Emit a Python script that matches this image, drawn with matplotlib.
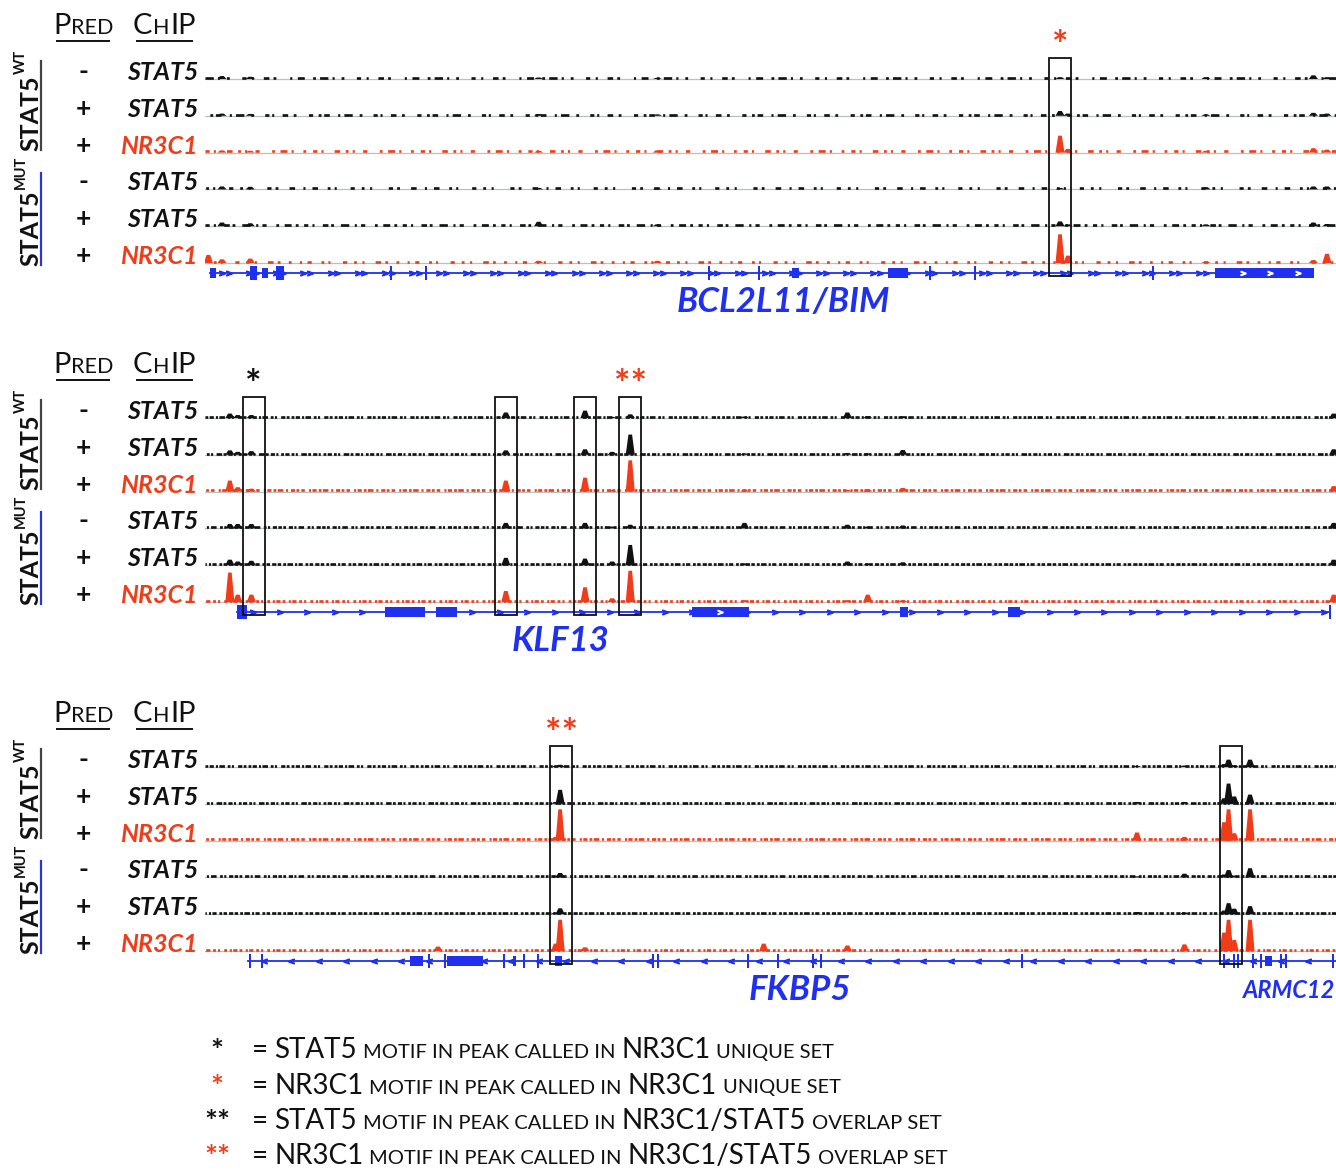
import matplotlib
matplotlib.use("Agg")
import matplotlib.pyplot as plt
import numpy as np
from matplotlib.patches import Rectangle, Polygon

plt.rcParams["font.family"] = ["Lato", "DejaVu Sans"]
plt.rcParams["lines.scale_dashes"] = False

BLACK = "#111111"
RED = "#f03c18"
GENE_BLUE = "#2030f0"
LINE_BLUE = "#2a36d8"
BASE_GRAY = "#b7c3c3"

# ---- track annotations (same for every locus) ----
PRED = ["-", "+", "+", "-", "+", "+"]
CHIP = ["STAT5", "STAT5", "NR3C1", "STAT5", "STAT5", "NR3C1"]

# ---- BCL2L11/BIM locus (x = % of window) ----
BIM_PEAK_X = [0.3, 1.5, 4.0, 29.5, 40.0, 75.6, 76.3, 88.5, 98.0, 99.2]
BIM_PEAK_H = [
    [0.00, 0.08, 0.06, 0.04, 0.03, 0.05, 0.00, 0.05, 0.10, 0.05],
    [0.00, 0.06, 0.05, 0.05, 0.04, 0.13, 0.06, 0.04, 0.08, 0.06],
    [0.00, 0.06, 0.05, 0.05, 0.06, 0.46, 0.10, 0.05, 0.12, 0.08],
    [0.00, 0.08, 0.07, 0.04, 0.03, 0.04, 0.00, 0.06, 0.08, 0.08],
    [0.00, 0.10, 0.08, 0.12, 0.05, 0.13, 0.05, 0.05, 0.10, 0.06],
    [0.22, 0.10, 0.12, 0.06, 0.06, 0.78, 0.20, 0.04, 0.08, 0.25],
]
BIM_BOXES = [75.6]
BIM_STARS = [(75.6, "*", RED)]
BIM_SPAN = (0.44, 97.97)
BIM_EXONS = [(0.44, 0.97, "c"), (3.98, 4.60, "T"), (5.04, 5.57, "c"), (6.28, 6.98, "T"),
             (16.36, 16.56, "T"), (19.45, 19.65, "T"), (44.47, 44.67, "T"), (48.89, 49.09, "T"),
             (51.90, 52.52, "c"), (60.39, 62.16, "c"), (64.01, 64.21, "T"), (67.99, 68.19, "T"),
             (83.73, 83.93, "T"), (89.30, 98.06, "c")]
BIM_LABELS = [("BCL2L11/BIM", 51.1, 25)]

# ---- KLF13 locus ----
KLF13_PEAK_X = [2.2, 2.9, 4.1, 26.6, 33.6, 36.0, 37.6, 47.7, 56.8, 58.6, 61.7, 99.8]
KLF13_PEAK_H = [
    [0.12, 0.08, 0.08, 0.15, 0.20, 0.03, 0.10, 0.04, 0.15, 0.05, 0.05, 0.12],
    [0.12, 0.08, 0.10, 0.12, 0.15, 0.08, 0.55, 0.04, 0.05, 0.04, 0.13, 0.15],
    [0.30, 0.12, 0.08, 0.30, 0.38, 0.05, 0.85, 0.05, 0.05, 0.06, 0.10, 0.15],
    [0.12, 0.12, 0.12, 0.15, 0.15, 0.05, 0.10, 0.15, 0.10, 0.05, 0.08, 0.15],
    [0.15, 0.10, 0.12, 0.20, 0.18, 0.10, 0.55, 0.05, 0.10, 0.05, 0.08, 0.15],
    [0.80, 0.20, 0.20, 0.30, 0.40, 0.10, 0.85, 0.05, 0.05, 0.20, 0.05, 0.20],
]
KLF13_BOXES = [4.3, 26.6, 33.6, 37.6]
KLF13_STARS = [(4.3, "*", BLACK), (37.6, "**", RED)]
KLF13_SPAN = (2.83, 99.47)
KLF13_EXONS = [(2.83, 3.72, "T"), (15.92, 19.45, "c"), (20.42, 22.28, "c"), (43.06, 48.10, "c"),
               (61.45, 62.20, "c"), (71.00, 72.06, "c"), (99.37, 99.57, "T")]
KLF13_LABELS = [("KLF13", 31.4, 25)]

# ---- FKBP5 locus ----
FKBP5_PEAK_X = [20.6, 31.0, 31.4, 33.6, 49.4, 56.8, 82.4, 86.6, 90.1, 90.5, 91.0, 92.4]
FKBP5_PEAK_H = [
    [0.00, 0.03, 0.06, 0.00, 0.00, 0.00, 0.03, 0.04, 0.08, 0.20, 0.05, 0.20],
    [0.00, 0.05, 0.38, 0.00, 0.00, 0.00, 0.05, 0.05, 0.15, 0.55, 0.20, 0.25],
    [0.00, 0.10, 0.85, 0.00, 0.00, 0.00, 0.22, 0.10, 0.50, 0.85, 0.20, 0.85],
    [0.00, 0.05, 0.12, 0.00, 0.00, 0.00, 0.03, 0.10, 0.08, 0.20, 0.05, 0.25],
    [0.00, 0.05, 0.16, 0.00, 0.00, 0.00, 0.06, 0.05, 0.10, 0.30, 0.15, 0.22],
    [0.12, 0.20, 0.85, 0.10, 0.20, 0.15, 0.05, 0.18, 0.50, 0.85, 0.30, 0.85],
]
FKBP5_BOXES = [31.5, 90.7]
FKBP5_STARS = [(31.5, "**", RED)]
FKBP5_SPAN = (3.8, 100.0)
FKBP5_EXONS = [(3.89, 4.09, "T"), (4.95, 5.15, "T"), (18.13, 19.27, "c"), (19.72, 19.92, "T"),
               (21.13, 21.33, "T"), (21.40, 24.58, "c"), (26.35, 26.55, "T"), (27.23, 27.50, "c"),
               (28.12, 28.32, "T"), (29.35, 29.55, "T"), (30.95, 31.57, "c"), (39.52, 39.72, "T"),
               (39.96, 40.16, "T"), (47.92, 48.12, "T"), (50.57, 50.77, "T"), (53.67, 53.87, "T"),
               (54.38, 54.58, "T"), (72.15, 72.35, "T"), (90.00, 90.20, "T"), (90.89, 91.09, "T"),
               (91.25, 91.45, "T"), (92.57, 92.77, "T"), (93.28, 93.48, "T"), (93.72, 94.34, "c"),
               (95.05, 95.25, "T"), (95.49, 95.69, "T"), (99.65, 99.85, "T")]
FKBP5_LABELS = [("FKBP5", 52.6, 25), ("ARMC12", 95.9, 17)]

# ---- legend ----
LEGEND_STARS = [("*", BLACK), ("*", RED), ("**", BLACK), ("**", RED)]
LEGEND_TEXT = [
    ["STAT5", "MOTIF IN PEAK CALLED IN", "NR3C1", "UNIQUE SET"],
    ["NR3C1", "MOTIF IN PEAK CALLED IN", "NR3C1", "UNIQUE SET"],
    ["STAT5", "MOTIF IN PEAK CALLED IN", "NR3C1/STAT5", "OVERLAP SET"],
    ["NR3C1", "MOTIF IN PEAK CALLED IN", "NR3C1/STAT5", "OVERLAP SET"],
]

# ---- layout ----
W, H = 1336, 1173
TRACK_X0 = 205
SP = 36.8            # pixels between track baselines
YTOP, YBOT = 1.0, -6.6
PEAK_W = 0.8
BOX_W = 1.95
NOISE_SPARSE = [(6, 3, 1.5, 5, 2, 9, 3, 4, 1.5, 7, 4, 3, 2, 10, 1.5, 4, 5, 6, 2, 3),
                (3, 4, 2, 2, 4, 6, 1.5, 3, 6, 5, 2, 8, 3, 2, 1.5, 6, 4, 4, 2, 9),
                (2, 5, 3, 3, 1.5, 8, 4, 4, 2, 3, 1.5, 6, 3, 9, 2, 4, 5, 3, 1.5, 7),
                (4, 7, 2, 3, 1.5, 10, 3, 5, 2, 4, 1.5, 12, 3, 3, 2, 8, 4, 6, 1.5, 5),
                (5, 3, 2, 4, 3, 3, 1.5, 6, 4, 2, 2, 5, 6, 4, 1.5, 3, 3, 7, 2, 4),
                (2, 6, 1.5, 4, 3, 7, 2, 3, 1.5, 9, 3, 5, 2, 4, 1.5, 8, 4, 3, 2, 6)]
NOISE_DENSE = [(2, 1, 3, 1.5, 1.5, 1, 4, 2, 2, 1, 1.5, 3, 3, 1, 2, 1.5),
               (3, 1.5, 2, 1, 1.5, 2.5, 4, 1, 2, 1.5, 3, 1, 1.5, 2, 2, 1),
               (1.5, 2, 3, 1, 2, 1.5, 2.5, 3, 1.5, 1, 3, 1.5, 2, 1, 4, 2),
               (2.5, 1, 2, 2, 3, 1, 1.5, 1.5, 4, 2.5, 2, 1, 1.5, 2, 3, 1),
               (3, 1, 2.5, 1.5, 2, 1, 4, 1.5, 1.5, 1, 3, 2, 2, 1, 2.5, 1.5),
               (2, 2, 1.5, 1, 3, 1.5, 2, 2.5, 1.5, 1, 3, 2, 2, 1.5, 1.5, 3)]

fig = plt.figure(figsize=(W / 100, H / 100), dpi=100)
ax0 = fig.add_axes([0, 0, 1, 1])
ax0.set_xlim(0, W)
ax0.set_ylim(H, 0)
ax0.axis("off")
renderer = fig.canvas.get_renderer()


def chain(x, y, parts, gap=5, color=BLACK, **kw):
    arts = []
    for s, size in parts:
        t = ax0.text(x, y, s, fontsize=size, color=color, ha="left", va="baseline", **kw)
        x = t.get_window_extent(renderer).x1 + gap
        arts.append(t)
    return arts


def underline(arts, y, inset=4):
    x0 = arts[0].get_window_extent(renderer).x0 + inset
    x1 = arts[-1].get_window_extent(renderer).x1 - inset
    ax0.plot([x0, x1], [y, y], color=BLACK, lw=1.4)


def draw_left(b):
    underline(chain(53, b - 45, [("P", 21), ("RED", 15.5)], gap=0.5), b - 38)
    underline(chain(133, b - 45, [("C", 21), ("H", 15.5), ("IP", 21)], gap=0.5), b - 38)
    for i in range(6):
        y = b + i * SP + 1
        ax0.text(83, y, PRED[i], fontsize=19, weight="bold", ha="center", va="baseline", color=BLACK)
        ax0.text(198, y, CHIP[i], fontsize=18, weight="bold", style="italic", ha="right",
                 va="baseline", color=RED if CHIP[i] == "NR3C1" else BLACK)
    for sup, y_bot, y0, y1, lc in (("WT", b + 72, b - 18, b + 71, "#444444"),
                                   ("MUT", b + 187, b + 94, b + 186, LINE_BLUE)):
        t = ax0.text(38, y_bot, "STAT5", fontsize=18, weight="bold", rotation=90,
                     rotation_mode="anchor", ha="left", va="baseline", color=BLACK)
        top = H - t.get_window_extent(renderer).y1
        ax0.text(25, top - 1, sup, fontsize=10.5, weight="bold", rotation=90,
                 rotation_mode="anchor", ha="left", va="baseline", color=BLACK)
        ax0.plot([41, 41], [y0, y1], color=lc, lw=1.6)


def draw_panel(b, peak_x, peak_h, boxes, stars, span, exons, labels, noise, chev, chev_mark):
    top = b - YTOP * SP
    bot = b - YBOT * SP
    ax = fig.add_axes([TRACK_X0 / W, 1 - bot / H, (W - TRACK_X0) / W, (bot - top) / H])
    ax.set_xlim(0, 100)
    ax.set_ylim(YBOT, YTOP)
    ax.axis("off")

    for i in range(6):
        y = -i
        col = RED if CHIP[i] == "NR3C1" else BLACK
        ax.plot([0, 100], [y, y], color=BASE_GRAY, lw=0.9, zorder=1)
        ax.plot([0, 100], [y + 0.035, y + 0.035], color=col, lw=1.9,
                linestyle=(i * 3.5, noise[i]), solid_capstyle="butt", zorder=2)
        for x, h in zip(peak_x, peak_h[i]):
            if h <= 0:
                continue
            ax.add_patch(Polygon([(x - PEAK_W / 2, y), (x - PEAK_W / 5, y + h),
                                  (x + PEAK_W / 5, y + h), (x + PEAK_W / 2, y)],
                                 closed=True, fc=col, ec="none", zorder=3))

    # gene model
    gy = -5.27
    ax.plot(span, [gy, gy], color=GENE_BLUE, lw=1.3, zorder=4)
    ax.plot(chev, [gy] * len(chev), ls="none", marker=chev_mark, ms=4,
            color=GENE_BLUE, zorder=4)
    for x0, x1, kind in exons:
        hh = 0.13 if kind == "c" else 0.18
        ax.add_patch(Rectangle((x0, gy - hh), max(x1 - x0, 0.2), 2 * hh,
                               fc=GENE_BLUE, ec="none", zorder=5))
        if x1 - x0 > 5:
            inner = np.arange(x0 + 2.5, x1 - 1, 2.4)
            ax.plot(inner, [gy] * len(inner), ls="none", marker=chev_mark, ms=3.5,
                    color="white", zorder=6)
    for name, x, size in labels:
        ax.text(x, -6.07, name, fontsize=size, weight="bold", style="italic",
                color=GENE_BLUE, ha="center", va="center", clip_on=False)

    # highlighted regions
    for x in boxes:
        ax.add_patch(Rectangle((x - BOX_W / 2, -5.36), BOX_W, 5.36 + 0.57, fill=False,
                               ec=BLACK, lw=1.3, zorder=7, clip_on=False))
    for x, s, c in stars:
        ax.text(x, 0.58, s, fontsize=28, weight="bold", color=c, ha="center",
                va="baseline", clip_on=False)
    return ax


def pairs(start, stop, step, offsets):
    base = np.arange(start, stop, step)
    return np.sort(np.concatenate([base + o for o in offsets]))


PANELS = [
    (79, BIM_PEAK_X, BIM_PEAK_H, BIM_BOXES, BIM_STARS, BIM_SPAN, BIM_EXONS, BIM_LABELS,
     NOISE_SPARSE, pairs(1.5, 97, 2.4, [0, 0.6]), "$>$"),
    (418, KLF13_PEAK_X, KLF13_PEAK_H, KLF13_BOXES, KLF13_STARS, KLF13_SPAN, KLF13_EXONS,
     KLF13_LABELS, NOISE_DENSE, pairs(4.2, 99, 2.43, [0]), "$>$"),
    (767, FKBP5_PEAK_X, FKBP5_PEAK_H, FKBP5_BOXES, FKBP5_STARS, FKBP5_SPAN, FKBP5_EXONS,
     FKBP5_LABELS, NOISE_DENSE, pairs(5.2, 99.5, 2.43, [0]), "$<$"),
]

for b, *rest in PANELS:
    draw_left(b)
    draw_panel(b, *rest)

# legend
for k, ((star, sc), words) in enumerate(zip(LEGEND_STARS, LEGEND_TEXT)):
    yc = 1048 + k * 35.5
    ax0.text(217, yc + 13, star, fontsize=22, weight="bold", color=sc, ha="center", va="baseline")
    chain(252, yc + 10, [("=", 20), (words[0], 20), (words[1], 14.5), (words[2], 20),
                         (words[3], 14.5)], gap=6)

fig.savefig("out.png", dpi=100)
